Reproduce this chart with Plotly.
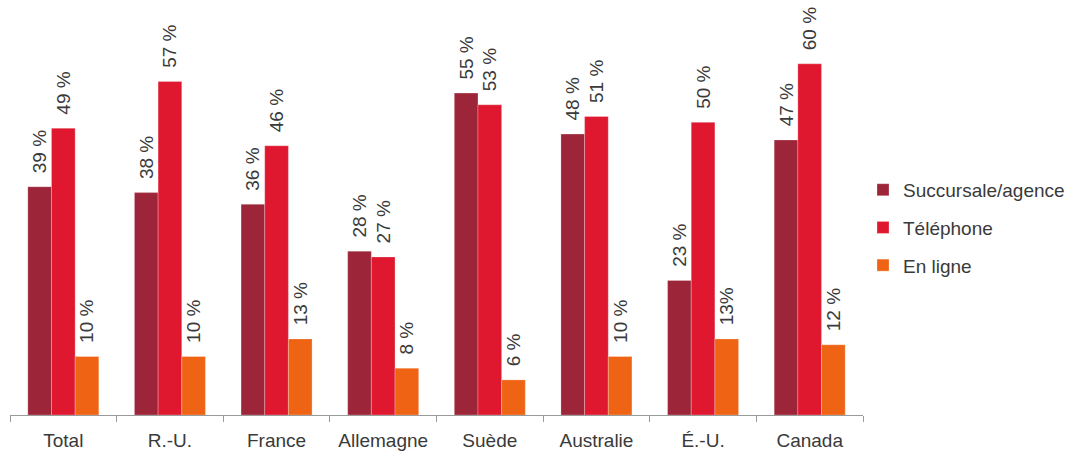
import plotly.graph_objects as go

categories = ["Total", "R.-U.", "France", "Allemagne", "Suède", "Australie", "É.-U.", "Canada"]
series_names = ["Succursale/agence", "Téléphone", "En ligne"]
succursale = [39, 38, 36, 28, 55, 48, 23, 47]
telephone = [49, 57, 46, 27, 53, 51, 50, 60]
en_ligne = [10, 10, 13, 8, 6, 10, 13, 12]
succursale_labels = ["39 %", "38 %", "36 %", "28 %", "55 %", "48 %", "23 %", "47 %"]
telephone_labels = ["49 %", "57 %", "46 %", "27 %", "53 %", "51 %", "50 %", "60 %"]
en_ligne_labels = ["10 %", "10 %", "13 %", "8 %", "6 %", "10 %", "13%", "12 %"]

colors = ["#9d2539", "#e0182f", "#ef6414"]
FONT = "Liberation Sans, Arial, sans-serif"
TXT = "#3a3a3a"
PAD = "\u00a0\u00a0"

fig = go.Figure()
for i, (name, vals, labs) in enumerate(zip(series_names,
                                            [succursale, telephone, en_ligne],
                                            [succursale_labels, telephone_labels, en_ligne_labels])):
    fig.add_trace(go.Bar(
        x=categories, y=vals, name=name,
        marker=dict(color=colors[i], line=dict(color="rgba(255,255,255,0.5)", width=0.5)),
        text=[PAD + t for t in labs],
        textposition="outside", textangle=-90, constraintext="none",
        cliponaxis=False,
        textfont=dict(family=FONT, size=19, color=TXT),
        legendgroup=name,
    ))

fig.update_layout(
    width=1072, height=453,
    margin=dict(l=10, r=209, t=10, b=38, autoexpand=False),
    paper_bgcolor="white", plot_bgcolor="white",
    barmode="group", bargap=0.334, bargroupgap=0,
    showlegend=True,
    legend=dict(x=1.0, y=0.462, xanchor="left", yanchor="middle",
                font=dict(family=FONT, size=19, color=TXT),
                tracegroupgap=10, traceorder="grouped"),
    font=dict(family=FONT, size=19, color=TXT),
)
fig.update_xaxes(showline=True, linecolor="#9a9a9a", linewidth=1,
                 ticks="outside", tickson="boundaries", ticklen=6, tickcolor="#9a9a9a",
                 ticklabelstandoff=8, automargin=False,
                 showgrid=False, tickfont=dict(family=FONT, size=19, color=TXT))
fig.update_yaxes(visible=False, range=[0, 69.2], showgrid=False)

fig.write_html("out.html")
